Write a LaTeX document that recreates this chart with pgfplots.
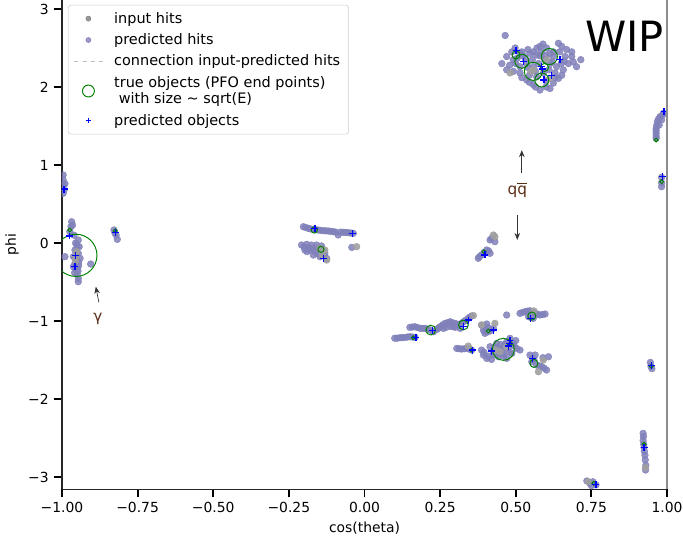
\documentclass[border=0pt]{standalone}
\usepackage{fontspec}
\setmainfont{DejaVu Sans}
\usepackage{pgfplots}
\pgfplotsset{compat=1.18}
\usetikzlibrary{arrows.meta}
\definecolor{predcol}{RGB}{128,128,186}
\definecolor{inputcol}{RGB}{128,128,128}
\definecolor{lightin}{RGB}{160,160,160}
\definecolor{mplgreen}{RGB}{0,128,0}
\definecolor{annot}{RGB}{90,45,20}
\pgfplotsset{truobj/.style={only marks, mark=o, line width=0.7pt, color=mplgreen, mark size=#1, forget plot}}
\begin{document}
\begin{tikzpicture}
\begin{axis}[
  scale only axis, width=435.6pt, height=352.1pt,
  xmin=-1, xmax=1, ymin=-3.154, ymax=3.115,
  enlargelimits=false,
  axis x line*=bottom, axis y line*=left,
  axis line style={-, line width=0.8pt, black!85},
  tick align=outside, major tick length=6pt,
  tick style={line width=1.4pt, black},
  /pgf/number format/assume math mode=true,
  xtick={-1,-0.75,-0.5,-0.25,0,0.25,0.5,0.75,1},
  xticklabels={−1.00,−0.75,−0.50,−0.25,0.00,0.25,0.50,0.75,1.00},
  ytick={-3,-2,-1,0,1,2,3},
  yticklabels={−3,−2,−1,0,1,2,3},
  ticklabel style={font=\fontsize{10}{12}\selectfont},
  xlabel={cos(theta)}, ylabel={phi},
  label style={font=\fontsize{10}{12}\selectfont},
  clip marker paths=true,
  legend image code/.code={\draw[mark repeat=2, mark phase=2, #1] plot coordinates {(0cm,0cm) (0.36cm,0cm) (0.72cm,0cm)};},
  legend style={at={(0.0099,0.99)}, anchor=north west, font=\fontsize{10.4}{11.8}\selectfont,
    draw=black!20, rounded corners=2pt, fill=white, fill opacity=0.8, text opacity=1,
    cells={align=left}, row sep=2pt, inner xsep=4pt, inner ysep=3pt,
    /tikz/every odd column/.append style={column sep=6pt}},
  legend cell align=left,
]
\coordinate (bl) at (rel axis cs:0,0);
\coordinate (tr) at (rel axis cs:1,1);

% predicted hits
\addplot[only marks, mark=*, mark size=2.4pt, color=predcol, opacity=0.85, forget plot] coordinates {
(0.454,2.30)(0.470,2.39)(0.487,2.45)(0.498,2.50)(0.492,2.35)(0.514,2.43)(0.531,2.37)(0.547,2.43)(0.558,2.45)(0.569,2.41)(0.580,2.52)(0.586,2.45)(0.602,2.50)(0.613,2.43)(0.624,2.39)(0.641,2.56)(0.652,2.52)(0.668,2.48)(0.685,2.45)(0.701,2.26)(0.674,2.30)(0.657,2.22)(0.641,2.11)(0.624,2.05)(0.613,1.98)(0.580,1.96)(0.558,2.03)(0.536,2.09)(0.514,2.18)(0.492,2.20)(0.470,2.22)(0.569,2.13)(0.591,2.18)(0.613,2.30)(0.558,2.26)(0.536,2.30)(0.514,2.26)(0.635,2.26)(0.663,2.39)(0.685,2.39)(0.652,2.15)(0.630,2.18)(0.465,2.66)
(0.50,2.30)(0.525,2.40)(0.60,2.40)(0.575,2.30)(0.545,2.15)(0.60,2.08)(0.62,2.32)(0.66,2.33)(0.59,2.55)(0.715,2.35)
(0.48,2.28)(0.505,2.37)(0.52,2.45)(0.54,2.48)(0.555,2.35)(0.565,2.20)(0.58,2.40)(0.595,2.35)(0.61,2.22)(0.625,2.45)(0.645,2.45)(0.65,2.30)(0.63,2.12)(0.60,2.00)(0.565,2.00)(0.545,2.06)(0.52,2.12)(0.54,2.25)(0.57,2.50)(0.69,2.32)
(-0.996,0.872)(-0.996,0.808)(-0.995,0.744)(-0.993,0.679)(-0.996,0.637)(-0.990,0.76)
(-0.968,0.273)(-0.970,0.209)(-0.974,0.145)(-0.946,0.038)(-0.951,-0.026)(-0.943,-0.047)(-0.957,-0.090)(-0.946,-0.133)(-0.962,-0.175)(-0.951,-0.218)(-0.940,-0.197)(-0.957,-0.261)(-0.962,-0.304)(-0.949,-0.325)(-0.946,-0.453)(-0.946,-0.496)(-0.990,-0.175)(-0.905,-0.269)(-0.955,0.0)(-0.945,-0.29)(-0.958,-0.38)(-0.950,-0.40)
(-0.95,-0.06)(-0.952,-0.15)(-0.945,-0.25)(-0.955,-0.33)(-0.947,-0.36)(-0.96,0.10)(-0.965,0.23)
(-0.828,0.167)(-0.821,0.103)(-0.817,0.047)(-0.825,0.13)
(-0.202,0.209)(-0.186,0.188)(-0.169,0.175)(-0.153,0.167)(-0.136,0.158)(-0.120,0.154)(-0.103,0.145)(-0.087,0.103)(-0.070,0.137)(-0.053,0.132)(-0.037,0.124)(-0.095,0.14)
(-0.195,0.20)(-0.178,0.18)(-0.161,0.17)(-0.145,0.162)(-0.128,0.156)(-0.112,0.15)(-0.078,0.14)(-0.062,0.135)(-0.045,0.128)
(-0.208,-0.026)(-0.191,-0.017)(-0.175,-0.026)(-0.158,-0.026)(-0.142,-0.038)(-0.197,-0.090)(-0.180,-0.090)(-0.164,-0.111)(-0.147,-0.111)(-0.131,-0.133)(-0.125,-0.197)(-0.147,-0.175)(-0.169,-0.154)(-0.042,-0.056)
(-0.2,-0.05)(-0.185,-0.06)(-0.17,-0.07)(-0.155,-0.07)(-0.14,-0.08)(-0.19,-0.11)(-0.155,-0.135)(-0.135,-0.16)
(0.415,0.039)(0.431,0.017)(0.404,-0.089)(0.387,-0.153)(0.376,-0.196)(0.415,-0.132)(0.42,0.06)(0.395,-0.12)(0.38,-0.175)(0.41,-0.10)
(0.100,-1.22)(0.108,-1.22)(0.117,-1.214)(0.134,-1.210)(0.150,-1.201)(0.167,-1.210)(0.125,-1.212)(0.142,-1.205)(0.158,-1.205)
(0.150,-1.081)(0.167,-1.073)(0.184,-1.094)(0.200,-1.094)(0.217,-1.116)(0.228,-1.137)(0.239,-1.107)(0.250,-1.073)(0.266,-1.030)(0.283,-1.009)(0.299,-1.030)(0.294,-1.073)(0.310,-1.051)(0.327,-1.009)(0.343,-0.966)(0.354,-0.936)(0.316,-1.094)(0.261,-1.094)
(0.158,-1.077)(0.175,-1.083)(0.192,-1.094)(0.208,-1.105)(0.245,-1.09)(0.258,-1.05)(0.275,-1.02)(0.29,-1.02)(0.305,-1.04)(0.32,-1.03)(0.335,-0.99)(0.348,-0.95)(0.27,-1.08)(0.285,-1.07)(0.30,-1.08)
(0.387,-1.051)(0.404,-1.038)(0.393,-1.116)(0.409,-1.137)(0.426,-1.094)(0.398,-1.158)(0.395,-1.07)(0.41,-1.09)(0.418,-1.12)(0.40,-1.13)
(0.514,-0.902)(0.531,-0.880)(0.547,-0.868)(0.564,-0.902)(0.580,-0.923)(0.597,-0.910)(0.542,-0.944)(0.558,-0.966)(0.470,-0.923)
(0.522,-0.89)(0.539,-0.874)(0.556,-0.885)(0.572,-0.912)(0.589,-0.916)(0.55,-0.955)
(0.305,-1.351)(0.321,-1.359)(0.338,-1.351)(0.354,-1.372)(0.313,-1.355)(0.33,-1.355)(0.346,-1.36)
(0.387,-1.372)(0.393,-1.436)(0.404,-1.479)(0.415,-1.329)(0.426,-1.393)(0.437,-1.287)(0.448,-1.351)(0.459,-1.415)(0.470,-1.265)(0.481,-1.222)(0.492,-1.287)(0.503,-1.351)(0.514,-1.372)(0.487,-1.415)(0.470,-1.479)(0.443,-1.458)(0.420,-1.492)
(0.395,-1.40)(0.41,-1.45)(0.425,-1.43)(0.44,-1.42)(0.455,-1.38)(0.465,-1.30)(0.475,-1.35)(0.48,-1.40)(0.495,-1.32)(0.50,-1.25)(0.46,-1.45)(0.43,-1.33)(0.45,-1.30)
(0.547,-1.436)(0.564,-1.436)(0.553,-1.522)(0.569,-1.564)(0.586,-1.585)(0.602,-1.628)(0.608,-1.458)(0.555,-1.48)(0.56,-1.50)(0.578,-1.575)(0.594,-1.605)(0.59,-1.47)
(0.988,1.662)(0.977,1.620)(0.968,1.555)(0.964,1.470)(0.964,1.406)(0.964,1.342)(0.982,1.577)(0.974,1.513)(0.985,1.64)(0.972,1.59)(0.966,1.51)(0.964,1.44)(0.964,1.37)
(0.982,0.842)(0.982,0.773)(0.982,0.722)
(0.945,-1.53)(0.947,-1.58)(0.95,-1.61)
(0.921,-2.44)(0.921,-2.53)(0.924,-2.62)(0.927,-2.72)(0.930,-2.85)(0.929,-2.91)(0.922,-2.48)(0.923,-2.58)(0.925,-2.67)(0.928,-2.78)
(0.735,-3.05)(0.745,-3.08)(0.755,-3.06)(0.75,-3.11)(0.765,-3.1)
};
% input hits
\addplot[only marks, mark=*, mark size=2.4pt, color=lightin, opacity=0.9, forget plot] coordinates {
(0.558,2.22)(0.481,2.18)(0.602,2.35)(0.613,2.11)(0.55,2.20)(-0.954,-0.175)(-0.951,-0.111)(-0.955,-0.23)(-0.147,-0.068)(-0.131,-0.090)(-0.125,-0.218)(-0.14,-0.15)(-0.026,-0.047)(0.426,0.103)(0.431,0.082)(0.431,-1.030)(0.387,-1.051)(0.343,-1.321)(0.448,-1.393)(0.470,-1.329)(0.431,-1.372)(0.575,-1.650)(0.591,-1.500)(0.929,-2.88)(0.74,-3.06)(0.56,-0.87)(0.36,-0.93)
};
% true objects (PFO end points), marker size ~ sqrt(E)
\addplot[truobj=1.4pt] coordinates {(-0.974,0.167)(-0.824,0.158)(0.161,-1.214)(0.354,-1.372)(0.964,1.320)(0.982,0.786)(0.948,-1.58)(0.924,-2.58)(0.758,-3.08)(0.395,-0.111)(0.409,-1.128)(0.479,-1.30)};
\addplot[truobj=2.2pt] coordinates {(-0.166,0.167)(-0.144,-0.081)};
\addplot[truobj=2.9pt] coordinates {(0.501,2.41)(0.595,2.25)(0.553,-0.936)(0.560,-1.543)};
\addplot[truobj=3.5pt] coordinates {(0.219,-1.116)(0.327,-1.051)};
\addplot[truobj=5.0pt] coordinates {(0.520,2.33)(0.586,2.09)};
\addplot[truobj=5.8pt] coordinates {(0.611,2.39)};
\addplot[truobj=6.5pt] coordinates {(0.558,2.20)};
\addplot[truobj=7.9pt] coordinates {(0.459,-1.363)};
\addplot[truobj=15.2pt] coordinates {(-0.954,-0.158)};
% predicted objects
\addplot[only marks, mark=+, mark size=2.5pt, line width=0.9pt, color=blue, forget plot] coordinates {
(0.501,2.47)(0.525,2.33)(0.588,2.23)(0.586,2.26)(0.619,2.15)(0.593,2.09)(0.646,2.35)
(-0.993,0.692)(-0.976,0.090)(-0.954,-0.158)(-0.957,-0.304)(-0.824,0.137)(-0.164,0.188)(-0.039,0.124)(-0.136,-0.197)(0.398,-0.153)
(0.170,-1.214)(0.224,-1.124)(0.327,-1.073)(0.343,-0.988)(0.426,-1.116)(0.549,-0.966)(0.358,-1.372)(0.420,-1.385)(0.476,-1.321)(0.481,-1.252)(0.479,-1.287)(0.556,-1.479)
(0.990,1.683)(0.985,0.850)(0.948,-1.57)(0.924,-2.62)(0.765,-3.1)
};

\addlegendimage{only marks, mark=*, mark size=1.8pt, color=inputcol}
\addlegendentry{input hits}
\addlegendimage{only marks, mark=*, mark size=1.8pt, color=predcol}
\addlegendentry{predicted hits}
\addlegendimage{dashed, color=black!25, line width=0.6pt}
\addlegendentry{connection input-predicted hits}
\addlegendimage{only marks, mark=o, mark size=4.3pt, line width=0.7pt, color=mplgreen}
\addlegendentry{true objects (PFO end points)\\\hspace*{0.32em}with size \textasciitilde{} sqrt(E)}
\addlegendimage{only marks, mark=+, mark size=2pt, line width=0.6pt, color=blue}
\addlegendentry{predicted objects}

\draw[-{Stealth[length=5pt,width=4pt]}, line width=0.5pt, black!80] (axis cs:0.52,0.90) -- (axis cs:0.52,1.19);
\draw[-{Stealth[length=5pt,width=4pt]}, line width=0.5pt, black!80] (axis cs:0.505,0.36) -- (axis cs:0.505,0.04);
\node[text=annot, font=\fontsize{11}{13}\selectfont] at (axis cs:0.505,0.68) {q$\overline{\mbox{q}}$};
\draw[-{Stealth[length=5pt,width=4pt]}, line width=0.5pt, black!80] (axis cs:-0.878,-0.76) -- (axis cs:-0.888,-0.56);
\node[text=annot, font=\fontsize{11}{13}\selectfont] at (axis cs:-0.881,-0.97) {γ};
\node[anchor=base east, inner sep=0pt, font=\fontsize{30}{36}\selectfont] at (axis cs:0.99,2.46) {WIP};
\end{axis}
\draw[line width=0.8pt, black!45] (tr) -- (tr |- bl);
\pgfresetboundingbox
\path[use as bounding box] ([shift={(-44.6pt,-34.6pt)}]bl) rectangle ([shift={(11.5pt,0pt)}]tr);
\end{tikzpicture}
\end{document}
